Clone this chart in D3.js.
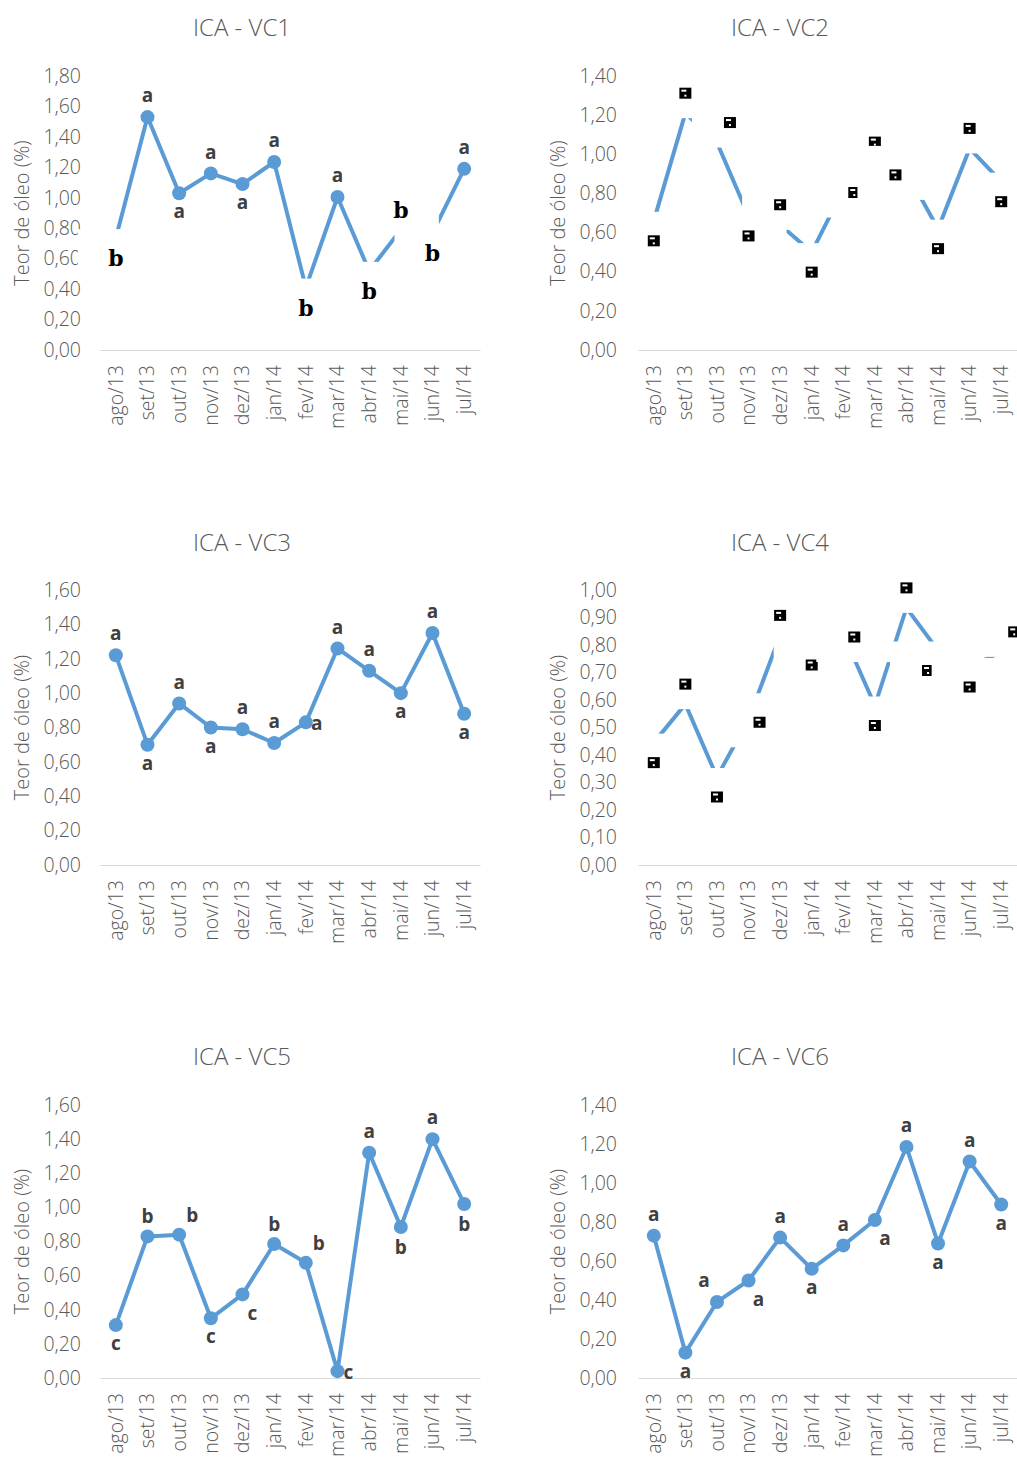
<!DOCTYPE html>
<html>
<head>
<meta charset="utf-8">
<script src="https://cdn.jsdelivr.net/npm/d3@7"></script>
<style>
  body { margin: 0; background: #fff; }
  svg { display: block; font-family: "Open Sans", "Liberation Sans", sans-serif; }
  .thin { font-weight: 300; }
</style>
</head>
<body>
<svg id="chart" width="1017" height="1457"></svg>
<script>
const months = ['ago/13', 'set/13', 'out/13', 'nov/13', 'dez/13', 'jan/14',
  'fev/14', 'mar/14', 'abr/14', 'mai/14', 'jun/14', 'jul/14'];

const titles = ['ICA - VC1', 'ICA - VC2', 'ICA - VC3', 'ICA - VC4', 'ICA - VC5', 'ICA - VC6'];
const yMaxes = [1.8, 1.4, 1.6, 1.0, 1.6, 1.4];
const ySteps = [0.2, 0.2, 0.2, 0.1, 0.2, 0.2];

// oil content (%) per month
const vc1Values = [0.735, 1.53, 1.03, 1.16, 1.09, 1.235, 0.41, 1.005, 0.52, 0.79, 0.77, 1.19];
const vc2Values = [0.66, 1.21, 1.06, 0.685, 0.64, 0.50, 0.82, 0.96, 0.91, 0.62, 1.03, 0.86];
const vc3Values = [1.22, 0.70, 0.94, 0.80, 0.79, 0.71, 0.83, 1.26, 1.13, 1.00, 1.35, 0.88];
const vc4Values = [0.445, 0.585, 0.32, 0.53, 0.835, 0.80, 0.84, 0.58, 0.935, 0.78, 0.72, 0.775];
const vc5Values = [0.31, 0.83, 0.84, 0.35, 0.49, 0.785, 0.675, 0.04, 1.32, 0.885, 1.40, 1.02];
const vc6Values = [0.73, 0.13, 0.39, 0.50, 0.72, 0.56, 0.68, 0.81, 1.185, 0.69, 1.11, 0.89];

// significance letters
const vc1Letters = ['b', 'a', 'a', 'a', 'a', 'a', 'b', 'a', 'b', 'b', 'b', 'a'];
const vc2Letters = ['a', 'a', 'a', 'a', 'a', 'a', 'a', 'a', 'a', 'a', 'a', 'a'];
const vc3Letters = ['a', 'a', 'a', 'a', 'a', 'a', 'a', 'a', 'a', 'a', 'a', 'a'];
const vc4Letters = ['a', 'a', 'a', 'a', 'a', 'a', 'a', 'a', 'a', 'a', 'a', 'a'];
const vc5Letters = ['c', 'b', 'b', 'c', 'c', 'b', 'b', 'c', 'a', 'b', 'a', 'b'];
const vc6Letters = ['a', 'a', 'a', 'a', 'a', 'a', 'a', 'a', 'a', 'a', 'a', 'a'];

// label placement: a above, b below, r right, l left, ar/br/al/bl diagonals
const vc1Places = ['b', 'a', 'b', 'a', 'b', 'a', 'b', 'a', 'b', 'a', 'b', 'a'];
const vc2Places = ['b', 'a', 'ar', 'b', 'a', 'b', 'r', 'a', 'l', 'b', 'a', 'b'];
const vc3Places = ['a', 'b', 'a', 'b', 'a', 'a', 'r', 'a', 'a', 'b', 'a', 'b'];
const vc4Places = ['b', 'a', 'b', 'r', 'a', 'b', 'r', 'b', 'a', 'bl', 'b', 'ar'];
const vc5Places = ['b', 'a', 'ar', 'b', 'br', 'a', 'ar', 'r', 'a', 'b', 'a', 'b'];
const vc6Places = ['a', 'b', 'al', 'br', 'a', 'b', 'a', 'br', 'a', 'b', 'a', 'b'];

// which labels came out as broken boxes in the source
const glitchModes = ['b', 'all', 'none', 'all', 'none', 'none'];

const panels = [
  { values: vc1Values, letters: vc1Letters, places: vc1Places },
  { values: vc2Values, letters: vc2Letters, places: vc2Places },
  { values: vc3Values, letters: vc3Letters, places: vc3Places },
  { values: vc4Values, letters: vc4Letters, places: vc4Places },
  { values: vc5Values, letters: vc5Letters, places: vc5Places },
  { values: vc6Values, letters: vc6Letters, places: vc6Places }
].map((p, i) => ({ ...p, title: titles[i], yMax: yMaxes[i], yStep: ySteps[i], glitch: glitchModes[i] }));

const cols = [
  { x0: 100, x1: 480, tickX: 81, titleX: 242, axisTitleX: 22 },
  { x0: 638, x1: 1017, tickX: 617, titleX: 780, axisTitleX: 558 }
];
const rows = [
  { top: 76, bottom: 350, titleY: 28 },
  { top: 590, bottom: 865, titleY: 543 },
  { top: 1105, bottom: 1378, titleY: 1057 }
];

const blue = '#5b9bd5';
const grey = '#595959';
const pt = d3.formatLocale({ decimal: ',', thousands: '.', grouping: [3], currency: ['', ''] });
const fmt = pt.format('.2f');

const offsets = {
  a: [0, -20], b: [0, 20], r: [11, 3], l: [-11, 3],
  ar: [13, -20], al: [-13, -20], br: [10, 20], bl: [-10, 20]
};

const svg = d3.select('#chart');

panels.forEach((p, i) => {
  const col = cols[i % 2];
  const row = rows[Math.floor(i / 2)];
  const g = svg.append('g');

  const x = d3.scaleBand().domain(months).range([col.x0, col.x1]);
  const y = d3.scaleLinear().domain([0, p.yMax]).range([row.bottom, row.top]);
  const cx = m => x(m) + x.bandwidth() / 2;

  // title
  g.append('text')
    .attr('class', 'thin')
    .attr('x', col.titleX).attr('y', row.titleY)
    .attr('dy', '0.35em')
    .attr('text-anchor', 'middle')
    .style('font-size', '24px')
    .style('fill', grey)
    .text(p.title);

  // y axis
  const ticks = d3.range(0, p.yMax + p.yStep / 2, p.yStep);
  const yAxis = g.append('g')
    .attr('transform', `translate(${col.x0}, 0)`)
    .call(d3.axisLeft(y).tickValues(ticks).tickSize(0)
      .tickPadding(col.x0 - col.tickX).tickFormat(fmt));
  yAxis.select('.domain').remove();
  yAxis.selectAll('text')
    .attr('class', 'thin')
    .style('font-size', '19.5px')
    .style('font-family', '"Open Sans", "Liberation Sans", sans-serif')
    .style('fill', grey);

  g.append('text')
    .attr('class', 'thin')
    .attr('transform', `translate(${col.axisTitleX}, ${(row.top + row.bottom) / 2}) rotate(-90)`)
    .attr('dy', '0.35em')
    .attr('text-anchor', 'middle')
    .style('font-size', '20px')
    .style('fill', grey)
    .text('Teor de óleo (%)');

  // x axis
  const xAxis = g.append('g')
    .attr('transform', `translate(0, ${row.bottom})`)
    .call(d3.axisBottom(x).tickSize(0).tickSizeOuter(0));
  xAxis.select('.domain').attr('stroke', '#d9d9d9').attr('stroke-width', 1.2);
  xAxis.selectAll('text')
    .attr('class', 'thin')
    .attr('transform', 'rotate(-90)')
    .attr('x', -15).attr('y', 0)
    .attr('dy', '0.35em')
    .attr('text-anchor', 'end')
    .style('font-size', '19.5px')
    .style('font-family', '"Open Sans", "Liberation Sans", sans-serif')
    .style('fill', grey);

  const data = months.map((m, j) => ({
    m, v: p.values[j], letter: p.letters[j], place: p.places[j]
  }));

  // series
  const line = d3.line().x(d => cx(d.m)).y(d => y(d.v));
  g.append('path')
    .datum(data)
    .attr('d', line)
    .attr('fill', 'none')
    .attr('stroke', blue)
    .attr('stroke-width', 4)
    .attr('stroke-linejoin', 'round');

  if (p.glitch !== 'all') {
    g.selectAll('.dot')
      .data(data)
      .enter().append('circle')
      .attr('class', 'dot')
      .attr('cx', d => cx(d.m))
      .attr('cy', d => y(d.v))
      .attr('r', 7)
      .attr('fill', blue);
  }

  // data labels
  const isGlitch = d => p.glitch === 'all' || p.glitch === d.letter;
  const lx = d => cx(d.m) + offsets[d.place][0];
  const ly = d => y(d.v) + offsets[d.place][1];

  const labels = g.selectAll('.lbl')
    .data(data)
    .enter().append('g')
    .attr('class', 'lbl')
    .attr('transform', d => `translate(${lx(d)}, ${ly(d)})`);

  // opaque label boxes that hide what is behind them
  labels.filter(isGlitch)
    .append('rect')
    .attr('x', -38).attr('y', -29)
    .attr('width', 76).attr('height', 54)
    .attr('fill', '#fff');

  labels.filter(d => !isGlitch(d))
    .append('text')
    .attr('text-anchor', 'middle')
    .attr('dy', d => d.letter === 'b' ? '0.37em' : '0.27em')
    .style('font-size', '19px')
    .style('font-weight', 'bold')
    .style('fill', '#404040')
    .text(d => d.letter);

  if (p.glitch === 'all') {
    const box = labels.append('g');
    box.append('rect')
      .attr('x', -6).attr('y', -5.5).attr('width', 12).attr('height', 11)
      .attr('fill', '#000');
    box.append('rect')
      .attr('x', -4).attr('y', -3.5).attr('width', 5).attr('height', 2)
      .attr('fill', '#fff');
    box.append('rect')
      .attr('x', -1).attr('y', 1.5).attr('width', 2).attr('height', 2)
      .attr('fill', '#fff');
  } else {
    labels.filter(isGlitch)
      .append('text')
      .attr('text-anchor', 'middle')
      .attr('dy', '0.37em')
      .style('font-family', '"DejaVu Serif", serif')
      .style('font-size', '22px')
      .style('font-weight', 'bold')
      .style('fill', '#000')
      .text(d => d.letter);
  }
});
</script>
</body>
</html>
